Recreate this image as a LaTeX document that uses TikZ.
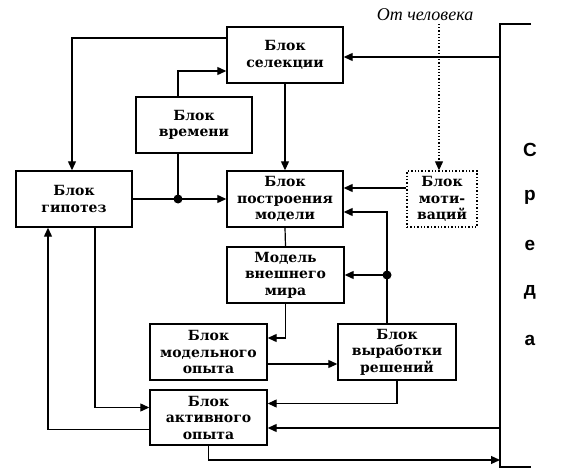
\documentclass[tikz,border=0pt]{standalone}
\usepackage{fontspec}
\setmainfont{DejaVu Serif}
\newfontfamily\italfont{Liberation Serif}
\newfontfamily\sredafont{Liberation Sans}
\usetikzlibrary{arrows.meta,positioning,calc}

\tikzset{
  blok/.style={draw,line width=1.4pt,minimum width=116pt,minimum height=56pt,
    inner sep=0pt,align=center,font=\bfseries\fontsize{14}{16.5}\selectfont},
  svyaz/.style={line width=1.2pt}
}

\begin{document}
\begin{tikzpicture}[x=1pt,y=-1pt,>={Triangle[length=9pt,width=8pt]}]
\useasboundingbox (0,0) rectangle (569,473);
% bloki
\node[blok] (sel) at (285,55) {Блок\\селекции};
\node[blok] (vrem) at (194,125) {Блок\\времени};
\node[blok] (gip) at (74,199) {Блок\\гипотез};
\node[blok] (postr) at (285,199) {Блок\\построения\\модели};
\node[blok,minimum width=70pt,dotted] (motiv) at (442,199) {Блок\\моти-\\ваций};
\node[blok,minimum width=117pt] (mir) at (285.5,275) {Модель\\внешнего\\мира};
\node[blok,minimum width=117pt] (modop) at (208.5,352) {Блок\\модельного\\опыта};
\node[blok,minimum width=118pt] (resh) at (397,352) {Блок\\выработки\\решений};
\node[blok,minimum width=117pt,minimum height=55pt] (aktiv) at (208.5,417.5) {Блок\\активного\\опыта};
% sreda
\draw[line width=1.4pt] (531,24) -- (500,24) -- (500,467) -- (531,467);
\foreach \bukva [count=\i] in {С,р,е,д,а}
  \node[font=\sredafont\bfseries\fontsize{19}{19}\selectfont] (sr\i) at (530,{150+47.5*(\i-1)}) {\bukva};
\node[font=\italfont\itshape\fontsize{18}{18}\selectfont] (chel) at (425,15) {От человека};
\coordinate (s1) at (500,57);
\coordinate (s2) at (500,428);
\coordinate (s3) at (500,460);
\coordinate (top) at (439,24);
% svyazi
\draw[svyaz,->] (s1) -- (s1 -| sel.east);
\draw[svyaz,->] ([yshift=17pt]sel.west) -| ([xshift=-2pt]gip.north);
\draw[svyaz,->] ([xshift=-16pt]vrem.north) |- ([yshift=-16pt]sel.west);
\draw[svyaz,->] (gip.east) -- (postr.west);
\coordinate (d1) at ([xshift=-16pt]vrem.south |- gip.east);
\draw[svyaz] ([xshift=-16pt]vrem.south) -- (d1);
\fill (d1) circle (4.5pt);
\draw[svyaz,->] (sel.south) -- (postr.north);
\draw[svyaz,->,dotted] (top) -- ([xshift=-3pt]motiv.north);
\draw[svyaz,->] ([yshift=11pt]motiv.west) -- ([yshift=11pt]motiv.west -| postr.east);
\draw[svyaz] (postr.south) -- (mir.north);
\draw[svyaz,->] ([xshift=-10pt]resh.north) |- ([yshift=-13pt]postr.east);
\coordinate (d2) at ([xshift=-10pt]resh.north |- mir.east);
\fill (d2) circle (4.5pt);
\draw[svyaz,->] (d2) -- (mir.east);
\draw[svyaz,->] (mir.south) |- ([yshift=14pt]modop.east);
\draw[svyaz,->] ([yshift=-12pt]modop.east) -- ([yshift=-12pt]modop.east -| resh.west);
\draw[svyaz,->] (resh.south) |- ([yshift=14pt]aktiv.east);
\draw[svyaz,->] (s2) -- (s2 -| aktiv.east);
\draw[svyaz,->] (aktiv.south) |- (s3);
\draw[svyaz,->] ([xshift=21pt]gip.south) |- ([yshift=10pt]aktiv.west);
\draw[svyaz,->] ([yshift=-12pt]aktiv.west) -| ([xshift=-26pt]gip.south);
\end{tikzpicture}
\end{document}
